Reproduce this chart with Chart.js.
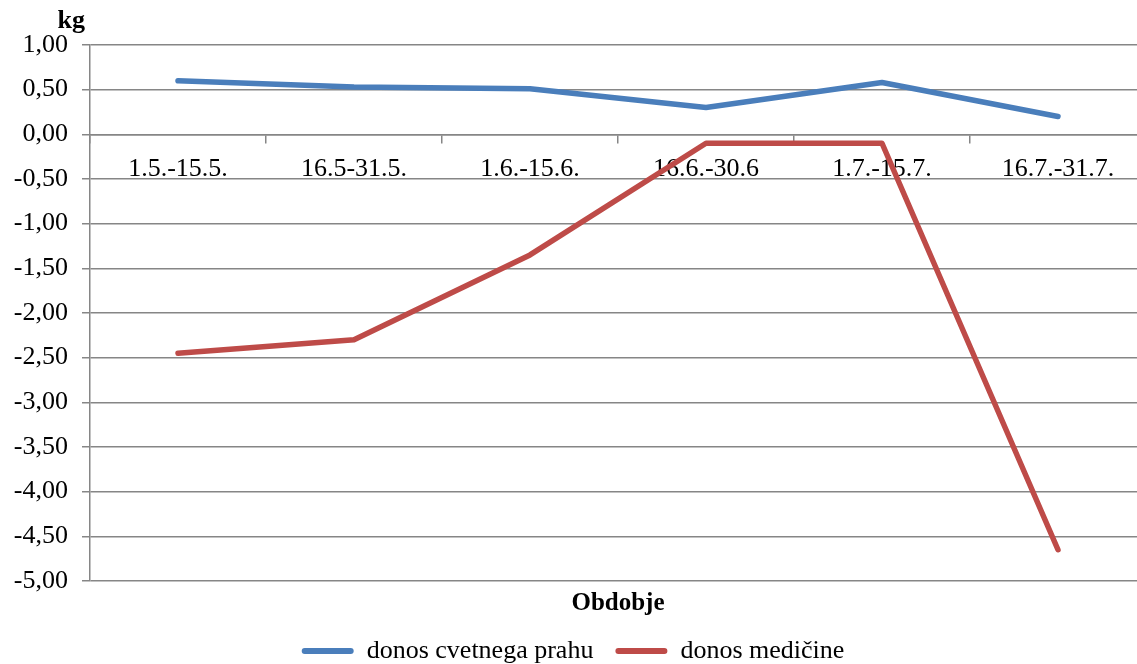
<!DOCTYPE html>
<html>
<head>
<meta charset="utf-8">
<script src="https://cdn.jsdelivr.net/npm/chart.js@4"></script>
<style>
    html, body { margin: 0; padding: 0; overflow: hidden; background: #fff; }
    /* the original chart is cut off at the right and bottom edge */
    #wrap { width: 1170px; height: 674px; }
</style>
</head>
<body>
<div id="wrap"><canvas id="donosChart"></canvas></div>
<script>
// Data
const obdobja = ['1.5.-15.5.', '16.5-31.5.', '1.6.-15.6.', '16.6.-30.6', '1.7.-15.7.', '16.7.-31.7.'];
const cvetniPrah = [0.60, 0.53, 0.51, 0.30, 0.58, 0.20];
const medicina = [-2.45, -2.30, -1.35, -0.10, -0.10, -4.65];
const yMin = -5, yMax = 1, yStep = 0.5;

const FONT = "'Liberation Serif', 'Times New Roman', serif";

// unit label "kg" above the y axis
const unitLabel = {
    id: 'unitLabel',
    afterDraw(chart) {
        const c = chart.ctx;
        c.save();
        c.font = 'bold 26px ' + FONT;
        c.fillStyle = '#000';
        c.textAlign = 'right';
        c.textBaseline = 'alphabetic';
        c.fillText('kg', chart.chartArea.left - 5, 28);
        c.restore();
    }
};

const ctx = document.getElementById('donosChart').getContext('2d');
const donosChart = new Chart(ctx, {
    type: 'line',
    data: {
        labels: obdobja,
        datasets: [
            {
                label: 'donos cvetnega prahu',
                data: cvetniPrah,
                borderColor: '#4a7ebb',
                backgroundColor: '#4a7ebb',
                borderWidth: 5.5,
                pointRadius: 0,
                borderCapStyle: 'round',
                borderJoinStyle: 'round',
                tension: 0
            },
            {
                label: 'donos medičine',
                data: medicina,
                borderColor: '#be4b48',
                backgroundColor: '#be4b48',
                borderWidth: 5.5,
                pointRadius: 0,
                borderCapStyle: 'round',
                borderJoinStyle: 'round',
                tension: 0
            }
        ]
    },
    options: {
        responsive: true,
        maintainAspectRatio: false,
        animation: false,
        layout: { padding: { top: 45, right: 24, left: 0, bottom: 0 } },
        scales: {
            x: {
                type: 'category',
                position: { y: 0 },
                offset: true,
                grid: { drawOnChartArea: false, drawTicks: true, offset: true, tickLength: 8, color: '#868686', lineWidth: 1.5 },
                border: { display: true, color: '#868686', width: 1.5 },
                ticks: { color: '#000', font: { family: FONT, size: 26 }, padding: 11, maxRotation: 0, autoSkip: false }
            },
            x2: {
                type: 'category',
                position: 'bottom',
                grid: { display: false, drawTicks: false },
                border: { display: false },
                ticks: { display: false },
                title: { display: true, text: 'Obdobje', color: '#000', font: { family: FONT, size: 25, weight: 'bold', lineHeight: 1 }, padding: { top: 10, bottom: 0 } }
            },
            y: {
                min: yMin,
                max: yMax,
                grid: { color: '#868686', lineWidth: 1.5, tickLength: 8 },
                border: { display: true, color: '#868686', width: 1.5 },
                ticks: {
                    stepSize: yStep,
                    color: '#000',
                    padding: 14,
                    font: { family: FONT, size: 26 },
                    callback: v => v.toFixed(2).replace('.', ',')
                },
                afterFit(scale) { scale.width = 90; }
            }
        },
        plugins: {
            legend: {
                position: 'bottom',
                labels: {
                    color: '#000',
                    font: { family: FONT, size: 26 },
                    boxWidth: 52,
                    boxHeight: 6,
                    padding: 22,
                    useBorderRadius: true,
                    borderRadius: 3,
                    generateLabels(chart) {
                        return Chart.defaults.plugins.legend.labels.generateLabels(chart).map(item => {
                            item.lineWidth = 0;
                            return item;
                        });
                    }
                }
            },
            tooltip: { enabled: false }
        }
    },
    plugins: [unitLabel]
});
</script>
</body>
</html>
